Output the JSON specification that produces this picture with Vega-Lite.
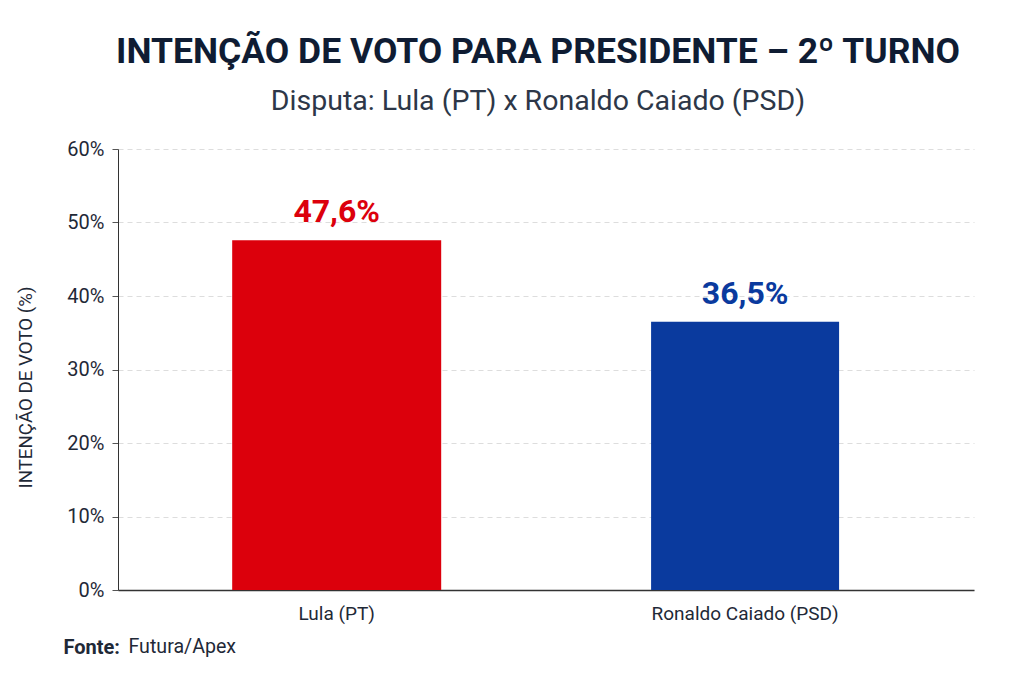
{
"$schema":"https://vega.github.io/schema/vega-lite/v6.json",
"width":856,"height":441,
"padding":{"left":118,"top":149,"right":50,"bottom":93},
"autosize":{"type":"none"},
"background":"white",
"view":{"stroke":null},
"title":{"text":"INTENÇÃO DE VOTO PARA PRESIDENTE – 2º TURNO","subtitle":"Disputa: Lula (PT) x Ronaldo Caiado (PSD)","anchor":"middle","frame":"group","dx":-8,"offset":24,"font":"Roboto","fontSize":35.5,"fontWeight":"bold","color":"#0f1c33","subtitleFont":"Roboto","subtitleFontSize":28.5,"subtitleColor":"#2d3748","subtitlePadding":16},
"data":{"values":[{"candidato":"Lula (PT)","voto":47.6,"rotulo":"47,6%"},{"candidato":"Ronaldo Caiado (PSD)","voto":36.5,"rotulo":"36,5%"}]},
"encoding":{
"y":{"field":"voto","type":"quantitative","scale":{"domain":[0,60]},"axis":{"values":[0,10,20,30,40,50,60],"labelExpr":"datum.value+'%'","title":"INTENÇÃO DE VOTO (%)","titleFont":"Roboto","titleFontSize":18.7,"titleFontWeight":"normal","titleColor":"#1f2937","titleX":-83,"titleY":238,"labelFont":"Roboto","labelFontSize":20,"labelColor":"#1f2937","labelPadding":8,"tickColor":"#555555","tickSize":6,"domainColor":"#333333","gridColor":"#dddddd","gridDash":[5,4]}},
"color":{"field":"candidato","type":"nominal","sort":null,"scale":{"range":["#dc000c","#0a3a9e"]},"legend":null}
},
"layer":[
{"mark":{"type":"bar"},"encoding":{
"x":{"field":"candidato","type":"nominal","sort":null,"scale":{"type":"band","paddingInner":0.5,"paddingOuter":0.298,"align":0.479},"axis":{"orient":"bottom","title":"Fonte:","titleFont":"Roboto","titleFontSize":20,"titleFontWeight":"bold","titleColor":"#1f2937","titleAlign":"left","titleAnchor":"start","titleX":-55,"titleY":47,"labelAngle":0,"labelFont":"Roboto","labelFontSize":19,"labelLimit":320,"labelColor":"#1f2937","labelPadding":14,"ticks":false,"domainColor":"#333333","domainWidth":1.5}},
"size":{"field":"candidato","type":"nominal","sort":null,"scale":{"range":[209,188]},"legend":null}}},
{"mark":{"type":"text","dy":-28,"font":"Roboto","fontSize":32,"fontWeight":"bold"},"encoding":{
"x":{"field":"candidato","type":"nominal","sort":null,"scale":{"type":"band","paddingInner":0.5,"paddingOuter":0.298,"align":0.479},"axis":{"orient":"bottom","title":"Futura/Apex","titleFont":"Roboto","titleFontSize":19.6,"titleFontWeight":"normal","titleColor":"#1f2937","titleAlign":"left","titleAnchor":"start","titleX":10,"titleY":47,"labels":false,"ticks":false,"domain":false,"grid":false}},
"text":{"field":"rotulo"}}}
],
"resolve":{"scale":{"x":"independent"},"axis":{"x":"independent"}}
}
